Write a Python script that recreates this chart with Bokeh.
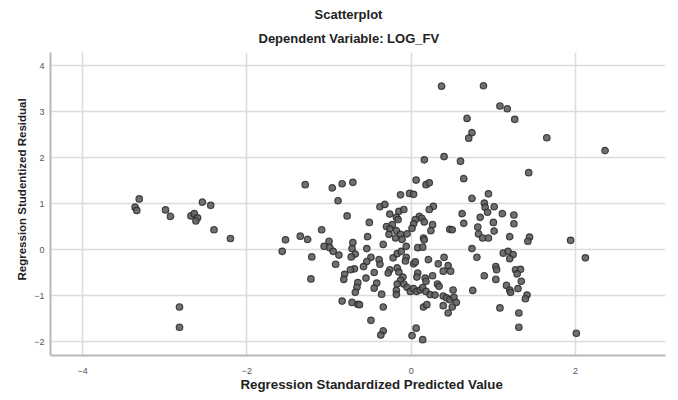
from bokeh.plotting import figure
from bokeh.models import Range1d, FixedTicker, Title
from bokeh.embed import file_html
from bokeh.resources import INLINE

# Regression Standardized Predicted Value (x) and Studentized Residual (y)
pred = [
    -3.31, -3.36, -3.34, -2.99, -2.93, -2.54, -2.44, -2.68, -2.64, -2.60, -2.62, -2.40, -2.20, -2.82, -2.82,
    -1.29, -0.96, -0.84, -0.71, -0.89, -0.38, -0.32, -0.78, -0.26, -0.51, -1.09, -1.53, -1.35, -1.26, -1.57,
    -1.21, -1.22, -0.53, -1.00, -1.06, -0.99, -0.95, -0.88, -0.92, -0.71, -0.72, -0.68, -0.73, -0.54, -0.49,
    -0.54, -0.58, -0.39, -0.38, -0.45, -0.55, -0.69, -0.74, -0.81, -0.82, -0.65, -0.66, -0.68, -0.42, -0.45,
    -0.36, -0.34, -0.84, -0.72, -0.65, -0.63, -0.49, -0.34, -0.37,
    0.16, 0.40, 0.60, 0.64, 0.06, 0.18, 0.22, -0.13, -0.02, 0.03, 0.74, -0.15, -0.09, -0.18, 0.27, 0.22,
    0.10, 0.13, 0.05, 0.16, 0.03, 0.26, 0.24, 0.01, 0.47, 0.50, 0.62, 0.64, 0.81, -0.30, -0.23, -0.18, 0.15,
    -0.16, -0.26, -0.05,
    -0.27, -0.19, -0.13, -0.11, -0.34, 0.16, 0.08, 0.14, -0.06, -0.22, -0.17, -0.12, -0.06, -0.07, 0.03,
    0.05, 0.21, 0.33, 0.40, 0.45, 0.39, 0.48, 0.26, 0.17, 0.18, 0.08, 0.07, -0.26, -0.28, -0.17, -0.15,
    -0.10, -0.13, -0.17, -0.18, -0.18, -0.09, -0.05, -0.01, 0.03, 0.07, 0.11, 0.14, 0.18, 0.23, 0.29, 0.32,
    0.34, 0.39, 0.43, 0.47, 0.51, 0.52, 0.55, 0.50, 0.45, 0.39, 0.15, 0.19, 0.06, 0.01, 0.14, 0.74, 0.80,
    0.75,
    0.37, 0.68, 0.74, 0.70, 0.88, 1.08, 1.17, 1.26, 1.65, 1.43, 0.94, 0.89, 1.01,
    0.90, 0.93, 1.11, 1.25, 1.25, 0.84, 1.00, 0.82, 0.87, 0.94, 1.01, 1.20, 1.44, 1.42, 1.94, 1.12, 1.18,
    1.24, 1.20, 2.12, 1.03, 1.04, 1.27, 1.33, 1.29, 0.89, 1.03, 1.34, 1.16, 1.20, 1.21, 1.30, 1.41, 1.39,
    1.08, 1.31, 1.31, 2.01, 2.36,
]
resid = [
    1.10, 0.92, 0.85, 0.86, 0.72, 1.03, 0.96, 0.73, 0.78, 0.69, 0.62, 0.43, 0.24, -1.25, -1.69,
    1.41, 1.34, 1.43, 1.46, 1.06, 0.93, 0.98, 0.73, 0.77, 0.59, 0.43, 0.21, 0.29, 0.22, -0.04,
    -0.16, -0.64, 0.28, 0.18, 0.07, 0.04, -0.04, -0.12, -0.32, 0.15, 0.02, -0.10, -0.16, 0.02, -0.17,
    -0.26, -0.37, -0.22, -0.32, -0.50, -0.62, -0.42, -0.44, -0.54, -0.65, -0.72, -0.82, -0.93, -0.73, -0.84,
    -0.97, -1.25, -1.12, -1.15, -1.19, -1.20, -1.54, -1.77, -1.86,
    1.95, 2.02, 1.92, 1.54, 1.51, 1.41, 1.45, 1.19, 1.22, 1.20, 1.11, 0.83, 0.87, 0.70, 0.94, 0.87,
    0.72, 0.68, 0.65, 0.60, 0.56, 0.54, 0.41, 0.46, 0.44, 0.43, 0.78, 0.57, 0.49, 0.50, 0.54, 0.41, 0.25,
    0.65, 0.45, 0.34,
    0.33, 0.25, 0.33, 0.22, 0.11, 0.21, 0.04, 0.05, 0.07, -0.18, -0.09, -0.04, -0.17, -0.25, -0.31,
    -0.27, -0.22, -0.31, -0.17, -0.35, -0.47, -0.47, -0.57, -0.62, -0.69, -0.51, -0.60, -0.44, -0.51, -0.40, -0.49,
    -0.60, -0.67, -0.75, -0.89, -0.98, -0.75, -0.82, -0.91, -0.85, -0.91, -0.88, -0.83, -0.91, -0.98, -0.99, -0.75,
    -0.80, -1.01, -1.05, -1.09, -0.88, -1.04, -1.15, -1.25, -1.38, -1.22, -1.25, -1.20, -1.71, -1.87, -1.96, 0.02, -0.17,
    -0.89,
    3.55, 2.85, 2.54, 2.42, 3.56, 3.12, 3.06, 2.83, 2.43, 1.67, 1.21, 1.01, 0.93,
    0.92, 0.81, 0.78, 0.75, 0.56, 0.70, 0.59, 0.34, 0.25, 0.25, 0.40, 0.28, 0.27, 0.18, 0.20, -0.08, -0.04,
    -0.11, -0.20, -0.18, -0.37, -0.44, -0.44, -0.43, -0.53, -0.57, -0.65, -0.69, -0.78, -0.88, -0.93, -0.85, -0.99, -1.07,
    -1.27, -1.38, -1.69, -1.82, 2.15,
]

x_ticks = [-4, -2, 0, 2]
y_ticks = [-2, -1, 0, 1, 2, 3, 4]

FONT = "Liberation Sans"

p = figure(width=678, height=400, output_backend="svg", toolbar_location=None,
           title=None, x_range=Range1d(-4.39, 3.095), y_range=Range1d(-2.304, 4.283),
           min_border_left=50, min_border_right=13, min_border_top=52, min_border_bottom=45)
p.outline_line_color = None
p.background_fill_color = "white"

def make_title(text, size, offset, standoff, valign="bottom"):
    return Title(text=text, align="left", offset=offset, standoff=standoff,
                 vertical_align=valign, text_font=FONT, text_font_size=size,
                 text_font_style="bold", text_color="#222222")

# nearest the frame first
p.add_layout(make_title("Dependent Variable: LOG_FV", "13px", 208, 14), "above")
p.add_layout(make_title("Scatterplot", "13px", 264, 0), "above")

for ax in (p.xaxis[0], p.yaxis[0]):
    ax.axis_line_color = "#b8b8b8"
    ax.axis_line_width = 2
    ax.major_tick_out = 0
    ax.major_tick_in = 0
    ax.minor_tick_out = 0
    ax.minor_tick_in = 0
    ax.major_label_text_font = FONT
    ax.major_label_text_font_size = "9px"
    ax.major_label_text_color = "#555555"

p.xaxis.ticker = FixedTicker(ticks=x_ticks)
p.yaxis.ticker = FixedTicker(ticks=y_ticks)
p.xaxis.major_label_standoff = 12
p.yaxis.major_label_standoff = 6

# axis titles (placed as titles beside the axes)
p.add_layout(make_title("Regression Standardized Predicted Value", "13.3px", 190, 0, "top"), "below")
p.add_layout(make_title("Regression Studentized Residual", "11.5px", 75, 8), "left")

p.xgrid.grid_line_color = "#dcdcdc"
p.ygrid.grid_line_color = "#dcdcdc"
p.xgrid.grid_line_width = 1.6
p.ygrid.grid_line_width = 1.6

p.scatter(pred, resid, size=6.5, marker="circle", fill_color="#606060", fill_alpha=0.9,
          line_color="#2a2a2a", line_width=1.2, line_alpha=0.85)

open("out.html", "w").write(file_html(p, INLINE))
